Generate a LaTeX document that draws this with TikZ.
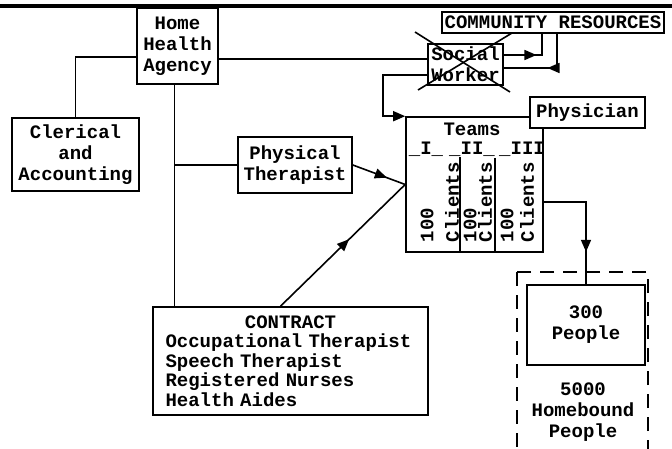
\documentclass[tikz,border=0pt]{standalone}
\usepackage{fontspec}
\setmonofont{Liberation Mono}
\usetikzlibrary{calc}
\usetikzlibrary{arrows.meta}
\usetikzlibrary{decorations.markings}

\newcommand{\typew}{\ttfamily\bfseries\fontsize{19}{21}\selectfont}
\tikzset{
  txt/.style={inner sep=0pt, align=center, font=\typew},
  box/.style={txt, draw, fill=white},
  midarrow/.style={postaction={decorate, decoration={markings,
      mark=at position #1 with {\arrow{Triangle[length=12pt,width=10pt]}}}}},
}

\begin{document}
\begin{tikzpicture}[x=1pt, y=-1pt, line width=1.6pt]
\useasboundingbox (0,0) rectangle (672,449);
\clip (0,0) rectangle (672,449);
\draw[line width=4pt] (0,6) -- (672,6);

% boxes
\node[box, minimum width=81pt, minimum height=76pt] (hha) at (177.5,46) {Home\\Health\\Agency};
\node[box, minimum width=127pt, minimum height=73pt] (cla) at (75.5,154.5) {Clerical\\and\\Accounting};
\node[box, minimum width=114pt, minimum height=56pt] (pt) at (295,165) {Physical\\Therapist};
\node[box, minimum width=137pt, minimum height=135pt] (teams) at (474.5,184.5) {};
\node[box, minimum width=115pt, minimum height=31pt] (phy) at (587.5,112.5) {Physician};
\node[box, minimum width=75pt, minimum height=41pt] (sw) at (465.5,64.5) {Social\\Worker};
\draw (415,32) -- (510,92);
\draw (418,90) -- (512,33);
\node[box, minimum width=222pt, minimum height=21pt] (cr) at (553,22.5) {COMMUNITY RESOURCES};
\node[box, minimum width=275pt, minimum height=108pt, text width=250pt, align=left,
  font=\ttfamily\bfseries\fontsize{19}{19.5}\selectfont] (con) at (290.5,361)
  {{\centering CONTRACT\par}Occupational Therapist\\Speech Therapist\\Registered Nurses\\Health Aides};
\draw[dash pattern=on 14pt off 9pt] (517,272) rectangle (648,470);
\node[box, minimum width=118pt, minimum height=80pt] (ppl) at (586,325) {300\\People};
\node[txt] (hb) at (583,412) {5000\\Homebound\\People};

% inside the teams box
\node[txt] (teamslbl) at (472,129) {Teams};
\node[txt] (team1) at (426,149) {\_I\_};
\node[txt] (team2) at (472,149) {\_II\_};
\node[txt] (team3) at (522,149) {\_III};
\coordinate (div1) at (460,157);
\coordinate (div2) at (495,158);
\draw (div1) -- (div1 |- teams.south);
\draw (div2) -- (div2 |- teams.south);
\foreach \xa/\xb/\n in {427/452/1, 470/485/2, 507/527/3} {
  \node[txt, rotate=90, anchor=west] (hundred\n) at (\xa,243) {100};
  \node[txt, rotate=90, anchor=west] (clients\n) at (\xb,243) {Clients};
}

% connectors
\coordinate (hhaw) at ($(hha.west)+(0,11)$);
\draw (cla.north) |- (hhaw);
\coordinate (hhae) at ($(hha.east)+(0,13)$);
\draw (hhae) -- (hhae -| sw.west);
\coordinate (hhas) at ($(hha.south)+(-3,0)$);
\draw (hhas) -- (hhas |- con.north);
\draw (hhas |- pt.west) -- (pt.west);
\coordinate (swo) at ($(sw.east)+(0,-9.5)$);
\draw[midarrow=0.55] (swo) -| ($(cr.south)+(-11,0)$);
\draw[midarrow=0.5] ($(cr.south)+(4,0)$) |- ($(sw.east)+(0,3.5)$);
\coordinate (swl) at (383,75);
\draw[-{Triangle[length=12pt,width=10pt]}] (sw.west |- swl) -- (swl) |- (teams.north west);
\draw[midarrow=0.65] (pt.east) -- (teams.west);
\draw[midarrow=0.55] ($(con.north)+(-10,0)$) -- (teams.west);
\coordinate (teamso) at ($(teams.east)+(0,17.5)$);
\draw[midarrow=0.74] (teamso) -| (ppl.north);
\end{tikzpicture}
\end{document}
